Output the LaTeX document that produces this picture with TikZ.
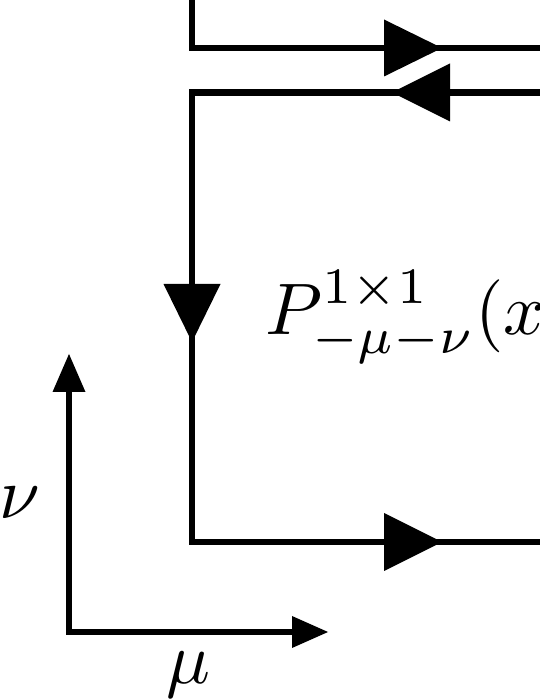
\documentclass[tikz,border=0pt]{standalone}
\usetikzlibrary{calc}
\begin{document}
\begin{tikzpicture}[x=1pt,y=1pt,
  wline/.style={line width=6.5pt,line join=miter,draw=black},
  axline/.style={line width=5.5pt,draw=black},
  tip/.style={fill=black},
  lab/.style={inner sep=0pt,scale=7.3}]
\useasboundingbox (0,0) rectangle (540,699);
\clip (0,0) rectangle (540,699);
% coordinates of the loop
\coordinate (tA) at (192,720);
\coordinate (tB) at (192,651);
\coordinate (tC) at (560,651);
\coordinate (sA) at (560,606.5);
\coordinate (sB) at (192,606.5);
\coordinate (sC) at (192,157);
\coordinate (sD) at (560,157);
% lines
\draw[wline] (tA) -- (tB) -- (tC);
\draw[wline] (sA) -- (sB) -- (sC) -- (sD);
% arrow heads on the loop
\coordinate (h1) at (442,651);
\coordinate (h2) at (392,606.5);
\coordinate (h3) at (192,357);
\coordinate (h4) at (442,157);
\fill[tip] (h1) -- ++(-58,28.5) -- ++(0,-57) -- cycle;
\fill[tip] (h2) -- ++(58,29) -- ++(0,-58) -- cycle;
\fill[tip] (h3) -- ++(-28.5,58) -- ++(57,0) -- cycle;
\fill[tip] (h4) -- ++(-58,29) -- ++(0,-58) -- cycle;
% label
\node[lab,anchor=base west] (P) at (264,364) {$P^{1\times1}_{-\mu-\nu}(x$};
% axes
\coordinate (O) at (69,67);
\coordinate (Ny) at (69,345);
\coordinate (Mx) at (328,67);
\draw[axline] (O) -- ($(Ny)+(0,-30)$);
\draw[axline] ($(O)+(-2.75,0)$) -- ($(Mx)+(-30,0)$);
\fill[tip] (Ny) -- ++(-16.5,-38) -- ++(33,0) -- cycle;
\fill[tip] (Mx) -- ++(-36,16) -- ++(0,-32) -- cycle;
\node[lab,anchor=base] (nu) at (20,181) {$\nu$};
\node[lab,anchor=base] (mu) at (188,16) {$\mu$};
\end{tikzpicture}
\end{document}
